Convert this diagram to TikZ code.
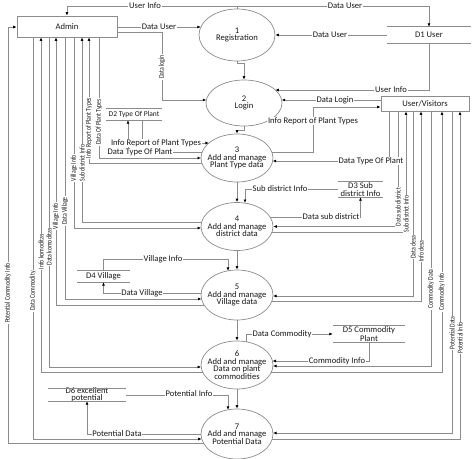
\documentclass[tikz,border=0pt]{standalone}
\usepackage{fontspec}
\setmainfont{Carlito}
\newfontfamily\narrowfont[FakeStretch=0.78]{Carlito}
\usetikzlibrary{arrows.meta,shapes.geometric,calc}
\definecolor{ln}{gray}{0.55}
\definecolor{tx}{gray}{0.1}
\begin{document}
\begin{tikzpicture}[x=1pt,y=-1pt,
  line/.style={draw=ln, line width=0.7pt},
  arr/.style={line, -{Latex[length=3.5pt,width=3pt,color=black]}},
  proc/.style={ellipse, draw=ln, line width=0.7pt, fill=white, minimum width=72pt, minimum height=48pt, inner sep=0pt},
  ptxt/.style={inner sep=0pt, align=center, font=\fontsize{8.6}{7.6}\selectfont, text=tx},
  ent/.style={rectangle, draw=ln, line width=0.7pt, fill=white, inner sep=0pt, font=\fontsize{8.6}{10}\selectfont, text=tx},
  storebox/.style={rectangle, inner sep=0pt},
  stxt/.style={inner sep=0pt, align=center, font=\fontsize{8.6}{7.3}\selectfont, text=tx},
  lbl/.style={fill=white, inner sep=0.8pt, font=\fontsize{8.6}{10}\selectfont, text=tx},
  vlbl/.style={fill=white, inner sep=0.8pt, rotate=90, font=\narrowfont\fontsize{7.4}{8}\selectfont, text=tx},
]
\useasboundingbox (0,0) rectangle (474,458);

% entities
\node[ent, minimum width=100pt, minimum height=21pt] (admin) at (67,26.5) {Admin};
\node[ent, minimum width=88pt, minimum height=15pt] (user) at (425,103.5) {User/Visitors};

% processes
\node[proc, minimum width=76pt, minimum height=52pt] (reg) at (237,35) {};
\node[ptxt] (regt) at (reg) {1\\Registration};
\node[proc, minimum width=76pt, minimum height=46pt] (login) at (244,103) {};
\node[ptxt] (logint) at (login) {2\\Login};
\node[proc] (p3) at (237,158) {};
\node[ptxt] (p3t) at (p3) {3\\Add and manage\\Plant Type data};
\node[proc] (p4) at (237,226.5) {};
\node[ptxt] (p4t) at (p4) {4\\Add and manage\\district data};
\node[proc, minimum height=50pt] (p5) at (237,295) {};
\node[ptxt] (p5t) at (p5) {5\\Add and manage\\Village data};
\node[proc] (p6) at (237,365) {};
\node[ptxt] (p6t) at (p6) {6\\Add and manage\\Data on plant\\commodities};
\node[proc, minimum height=50pt] (p7) at (237,434) {};
\node[ptxt] (p7t) at (p7) {7\\Add and manage\\Potential Data};

% data stores
\node[storebox, minimum width=84pt, minimum height=16pt] (d1) at (429,35) {};
\node[stxt] (d1t) at (d1) {D1 User};
\node[storebox, minimum width=56pt, minimum height=11pt] (d2) at (134,114.5) {};
\node[stxt, font=\fontsize{7.5}{8}\selectfont] (d2t) at (d2) {D2 Type Of Plant};
\node[storebox, minimum width=45pt, minimum height=15pt] (d3) at (360.5,189.5) {};
\node[stxt] (d3t) at (d3) {D3 Sub\\district Info};
\node[storebox, minimum width=53pt, minimum height=11pt] (d4) at (103.5,276.5) {};
\node[stxt] (d4t) at (d4) {D4 Village};
\node[storebox, minimum width=72pt, minimum height=16pt] (d5) at (369,334) {};
\node[stxt] (d5t) at (d5) {D5 Commodity\\Plant};
\node[storebox, minimum width=78pt, minimum height=12pt] (d6) at (87,395) {};
\node[stxt] (d6t) at (d6) {D6 excellent\\potential};
\foreach \d in {d1,d2,d3,d4,d5,d6}{
  \draw[line] (\d.north west) -- (\d.north east) (\d.south west) -- (\d.south east);
}

% registration / login
\draw[arr] (reg.north) |- (admin.north |- 0,6) -- (admin.north);
\draw[arr] (reg.north) |- (d1.north |- 0,6) -- (d1.north);
\draw[arr] (d1.west) -- (reg.east);
\draw[arr] (admin.east |- 0,27) -- ($(reg)+(-36.2,-8)$);
\draw[arr] (admin.east |- 0,32) -| (162,100) -- ($(login)+(-37.7,-3)$);
\draw[arr] (d1.south) |- ($(login)+(31.3,-13)$);
\draw[arr] (user.west |- 0,100) -- ($(login)+(37.7,-3)$);
\draw[arr] (reg.south) -- ++(0,2) -| (login.north);
\draw[arr] (login.south) -- ++(0,4) -| (p3.north);
\draw[arr] (p3.south) -- (p4.north);
\draw[arr] (p4.south) -- (p5.north);
\draw[arr] (p5.south) -- (p6.north);
\draw[arr] (p6.south) -- (p7.north);

% process 3
\draw[arr] ($(p3)+(34.8,-6)$) -- (313,152) |- (user.west |- 0,107);
\draw[arr] (389,0 |- user.south) |- ($(p3)+(35.7,3)$);
\draw[arr] ($(p3)+(-34.8,-6)$) -| (128,0 |- d2.south);
\draw[arr] (142,0 |- d2.south) |- ($(p3)+(-28.1,-15)$);
\draw[arr] (99,0 |- admin.south) |- ($(p3)+(-36,0)$);
\draw[arr] ($(p3)+(-35.2,5)$) -| (89,0 |- admin.south);

% process 4
\draw[arr] ($(p4)+(-35.5,-4.5)$) -| (82,0 |- admin.south);
\draw[arr] (74,0 |- admin.south) |- ($(p4)+(-35.9,1.5)$);
\draw[arr] (d3.west) -| ($(p4)+(8,-23.5)$);
\draw[arr] ($(p4)+(33.1,-9.5)$) -| (d3.south);
\draw[arr] (398,0 |- user.south) |- (p4.east);
\draw[arr] ($(p4)+(34.9,5.5)$) -| (406,0 |- user.south);

% process 5
\draw[arr] (d4.north) |- ($(p5)+(-9,-36)$) -- ($(p5)+(-9,-24.1)$);
\draw[arr] ($(p5)+(-35.9,-2)$) -| (d4.south);
\draw[arr] (65,0 |- admin.south) |- ($(p5)+(-35.5,4)$);
\draw[arr] ($(p5)+(-33,10)$) -| (56,0 |- admin.south);
\draw[arr] (413,0 |- user.south) |- ($(p5)+(36,1)$);
\draw[arr] ($(p5)+(34.9,6)$) -| (421,0 |- user.south);

% process 6
\draw[arr] ($(p6)+(9,-23.3)$) |- (d5.west);
\draw[arr] (d5.south) |- ($(p6)+(35.5,-4)$);
\draw[arr] (49,0 |- admin.south) |- ($(p6)+(-35.9,2)$);
\draw[arr] ($(p6)+(-34.4,7)$) -| (41,0 |- admin.south);
\draw[arr] (431,0 |- user.south) |- ($(p6)+(36,1)$);
\draw[arr] ($(p6)+(34.4,7)$) -| (442,0 |- user.south);

% process 7
\draw[arr] (d6.east) -| ($(p7)+(-9,-24.1)$);
\draw[arr] (p7.west) -| (d6.south);
\draw[arr] (33,0 |- admin.south) |- ($(p7)+(-35.3,5)$);
\draw[arr] ($(p7)+(-33.5,9)$) -| (8,27) -- (admin.west |- 0,27);
\draw[arr] (452,0 |- user.south) |- ($(p7)+(36,-1)$);
\draw[arr] ($(p7)+(35.3,5)$) -| (460,0 |- user.south);

% horizontal labels
\node[lbl] (lUI1) at (145,6) {User Info};
\node[lbl] (lDU1) at (345,6) {Data User};
\node[lbl] (lDU2) at (330,35) {Data User};
\node[lbl] (lDU3) at (159,27) {Data User};
\node[lbl] (lUI2) at (391,90) {User Info};
\node[lbl] (lDLo) at (335,100) {Data Login};
\node[lbl] (lIR1) at (313,121) {Info Report of Plant Types};
\node[lbl] (lDT1) at (371,161) {Data Type Of Plant};
\node[lbl] (lIR2) at (156,143) {Info Report of Plant Types};
\node[lbl] (lDT2) at (140,152) {Data Type Of Plant};
\node[lbl] (lSD1) at (280,189) {Sub district Info};
\node[lbl] (lDS1) at (331,217) {Data sub district};
\node[lbl] (lVI1) at (163,259) {Village Info};
\node[lbl] (lDV1) at (142,293) {Data Village};
\node[lbl] (lDC1) at (282,334) {Data Commodity};
\node[lbl] (lCI1) at (337,361) {Commodity Info};
\node[lbl] (lPI1) at (189,394) {Potential Info};
\node[lbl] (lPD1) at (117,434) {Potential Data};

% vertical labels
\node[vlbl] (lDL) at (162,67) {Data login};
\node[vlbl] (lv1) at (99,122) {Data Of Plant Types};
\node[vlbl] (lv2) at (89,128) {Info Report of Plant Types};
\node[vlbl] (lv3) at (82,163) {Sub district Info};
\node[vlbl] (lv4) at (74,168) {Village Info};
\node[vlbl] (lv5) at (398,207) {Data sub district};
\node[vlbl] (lv6) at (406,214) {Sub district Info};
\node[vlbl] (lv7) at (65,211) {Data Village};
\node[vlbl] (lv8) at (56,216) {Village Info};
\node[vlbl] (lv9) at (413,247) {Data desa};
\node[vlbl] (lv10) at (421,251) {Info desa};
\node[vlbl] (lv11) at (49,247) {Data komoditas};
\node[vlbl] (lv12) at (41,252) {Info komoditas};
\node[vlbl] (lv13) at (431,289) {Commodity Data};
\node[vlbl] (lv14) at (442,292) {Commodity Info};
\node[vlbl] (lv15) at (33,291) {Data Commodity};
\node[vlbl] (lv16) at (8,293) {Potential Commodity Info};
\node[vlbl] (lv17) at (452,333) {Potential Data};
\node[vlbl] (lv18) at (460,338) {Potential Info};
\end{tikzpicture}
\end{document}
